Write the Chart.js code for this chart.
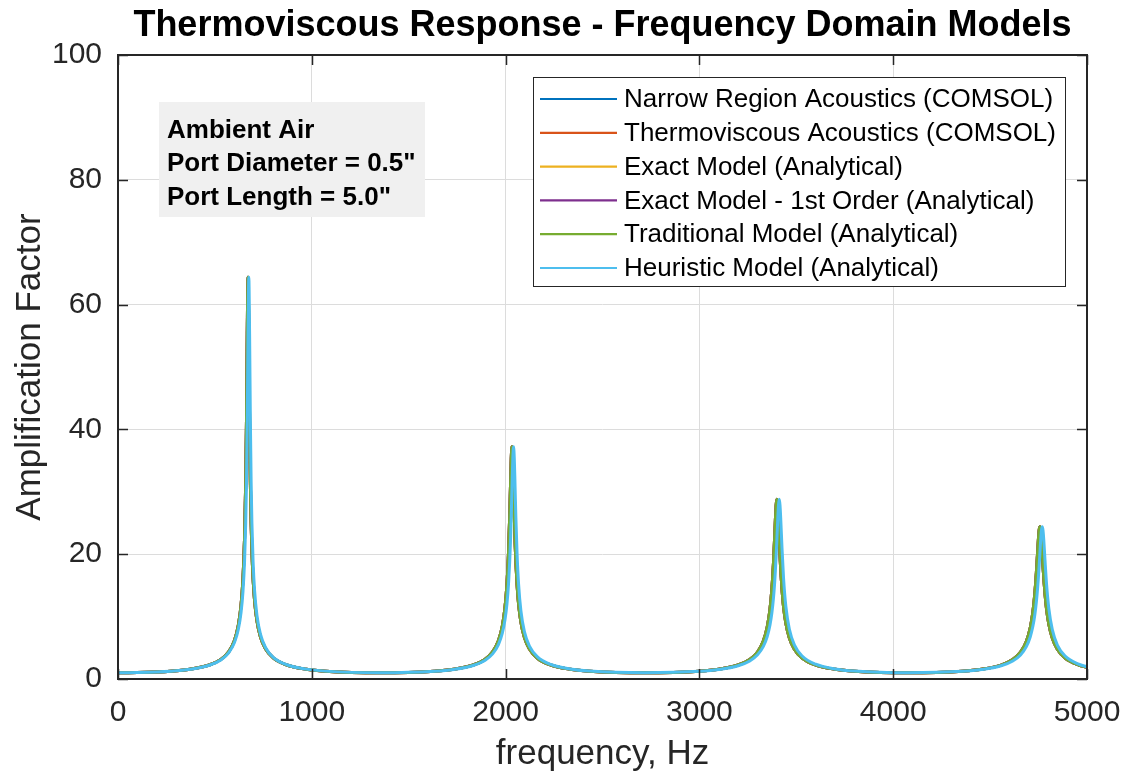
<html>
<head>
<script src="https://cdn.jsdelivr.net/npm/chart.js@4.4.1/dist/chart.umd.min.js"></script>
<style>
  body { margin: 0; background: #fff; }
  #wrap { width: 1125px; height: 774px; }
</style>
</head>
<body>
<div id="wrap"><canvas id="myChart" width="1125" height="774"></canvas></div>
<script>
// frequency samples (Hz), denser around each resonance
const freqHz = [
  0, 100, 271, 371,
  471, 531, 571, 601, 621, 635, 645, 653, 659, 663, 667, 671, 675, 679, 683, 687, 691, 697, 705, 717, 735, 761, 801, 871, 971, 1071,
  1352,
  1633, 1733, 1833, 1893, 1933, 1963, 1983, 1997, 2007, 2015, 2021, 2025, 2029, 2033, 2037, 2041, 2045, 2049, 2053, 2059, 2067, 2079, 2097, 2123, 2163, 2233, 2333, 2433,
  2716,
  3000, 3100, 3200, 3260, 3300, 3330, 3350, 3364, 3374, 3382, 3388, 3392, 3396, 3400, 3404, 3408, 3412, 3416, 3420, 3426, 3434, 3446, 3464, 3490, 3530, 3600, 3700, 3800,
  4078,
  4357, 4457, 4557, 4617, 4657, 4687, 4707, 4721, 4731, 4739, 4745, 4749, 4753, 4757, 4761, 4765, 4769, 4773, 4777, 4783, 4791, 4803, 4821, 4847, 4887, 4957, 5000
];

// amplification factor, COMSOL + exact/traditional analytical models (they overlap)
const ampModels = [
  1.000, 1.033, 1.253, 1.565,
  2.242, 3.143, 4.358, 6.183, 8.601, 11.84, 16.13, 22.54, 31.48, 41.43, 55.35, 64.39, 55.35, 41.43, 31.48, 24.95, 20.52, 16.13, 12.50, 9.33, 6.752, 4.832, 3.376, 2.242, 1.565, 1.253,
  1.000,
  1.253, 1.565, 2.240, 3.137, 4.340, 6.129, 8.454, 11.46, 15.21, 20.21, 25.91, 30.66, 35.18, 37.20, 35.18, 30.66, 25.91, 21.89, 18.72, 15.21, 12.06, 9.143, 6.681, 4.806, 3.368, 2.240, 1.565, 1.253,
  1.000,
  1.253, 1.564, 2.238, 3.130, 4.321, 6.075, 8.313, 11.11, 14.43, 18.47, 22.51, 25.43, 27.83, 28.80, 27.83, 25.43, 22.51, 19.73, 17.31, 14.43, 11.66, 8.965, 6.612, 4.781, 3.360, 2.238, 1.564, 1.253,
  1.000,
  1.253, 1.564, 2.236, 3.123, 4.303, 6.024, 8.182, 10.80, 13.77, 17.14, 20.22, 22.25, 23.81, 24.40, 23.81, 22.25, 20.22, 18.13, 16.20, 13.77, 11.30, 8.801, 6.546, 4.756, 3.351, 2.236, 1.875
];

// heuristic model, resonances sit a few Hz higher
const ampHeuristic = [
  1.000, 1.032, 1.245, 1.548,
  2.202, 3.059, 4.194, 5.855, 7.976, 10.69, 14.09, 18.82, 24.95, 31.48, 41.43, 55.35, 64.39, 55.35, 41.43, 31.48, 24.95, 18.82, 14.09, 10.19, 7.193, 5.052, 3.480, 2.285, 1.583, 1.262,
  1.000,
  1.236, 1.530, 2.161, 2.974, 4.028, 5.520, 7.341, 9.530, 12.06, 15.21, 18.72, 21.89, 25.91, 30.66, 35.18, 37.20, 35.18, 30.66, 25.91, 20.21, 15.21, 10.91, 7.591, 5.260, 3.580, 2.327, 1.600, 1.271,
  1.000,
  1.228, 1.514, 2.122, 2.894, 3.875, 5.226, 6.812, 8.628, 10.61, 12.92, 15.30, 17.31, 19.73, 22.51, 25.43, 27.83, 28.80, 27.83, 25.43, 21.09, 16.26, 11.66, 8.020, 5.481, 3.686, 2.370, 1.618, 1.280,
  1.000,
  1.228, 1.514, 2.120, 2.889, 3.862, 5.194, 6.739, 8.481, 10.34, 12.44, 14.52, 16.20, 18.13, 20.22, 22.25, 23.81, 24.40, 23.81, 22.25, 19.16, 15.33, 11.30, 7.902, 5.444, 3.675, 2.367, 1.961
];

const seriesNames = [
  'Narrow Region Acoustics (COMSOL)',
  'Thermoviscous Acoustics (COMSOL)',
  'Exact Model (Analytical)',
  'Exact Model - 1st Order (Analytical)',
  'Traditional Model (Analytical)',
  'Heuristic Model (Analytical)'
];
const seriesColors = ['#0072BD', '#D95319', '#EDB120', '#7E2F8E', '#77AC30', '#4DBEEE'];
const seriesValues = [ampModels, ampModels, ampModels, ampModels, ampModels, ampHeuristic];

const xTicks = [0, 1000, 2000, 3000, 4000, 5000];
const yTicks = [0, 20, 40, 60, 80, 100];

const titleText = 'Thermoviscous Response - Frequency Domain Models';
const noteLines = ['Ambient Air', 'Port Diameter = 0.5"', 'Port Length = 5.0"'];

const FONT = '"Liberation Sans", Arial, Helvetica, sans-serif';
const AXIS_COLOR = '#262626';

function toPoints(vals) {
  return freqHz.map((f, i) => ({ x: f, y: vals[i] }));
}

// box around the axes with inward ticks on all four sides
const axesBox = {
  id: 'axesBox',
  afterDatasetsDraw(chart) {
    const { ctx, chartArea: a, scales } = chart;
    ctx.save();
    ctx.strokeStyle = AXIS_COLOR;
    ctx.lineWidth = 1.5;
    ctx.beginPath();
    xTicks.forEach(v => {
      const px = Math.round(scales.x.getPixelForValue(v)) + 0.5;
      ctx.moveTo(px, a.bottom); ctx.lineTo(px, a.bottom - 10);
      ctx.moveTo(px, a.top); ctx.lineTo(px, a.top + 10);
    });
    yTicks.forEach(v => {
      const py = Math.round(scales.y.getPixelForValue(v)) + 0.5;
      ctx.moveTo(a.left, py); ctx.lineTo(a.left + 10, py);
      ctx.moveTo(a.right, py); ctx.lineTo(a.right - 10, py);
    });
    ctx.stroke();
    ctx.lineWidth = 2;
    ctx.strokeRect(a.left, a.top, a.right - a.left, a.bottom - a.top);
    ctx.restore();
  }
};

// title, text note and legend
const overlays = {
  id: 'overlays',
  afterDraw(chart) {
    const ctx = chart.ctx;
    const a = chart.chartArea;
    ctx.save();

    ctx.fillStyle = '#000';
    ctx.font = 'bold 36px ' + FONT;
    ctx.textAlign = 'center';
    ctx.textBaseline = 'alphabetic';
    ctx.fillText(titleText, (a.left + a.right) / 2, 36);

    // note box
    ctx.fillStyle = '#f0f0f0';
    ctx.fillRect(159, 102, 266, 115);
    ctx.fillStyle = '#000';
    ctx.font = 'bold 26px ' + FONT;
    ctx.textAlign = 'left';
    noteLines.forEach((t, i) => ctx.fillText(t, 167, 138 + i * 33.3));

    // legend
    const lx = 533, ly = 77, lw = 532, lh = 209;
    ctx.fillStyle = '#fff';
    ctx.fillRect(lx, ly, lw, lh);
    ctx.strokeStyle = AXIS_COLOR;
    ctx.lineWidth = 1;
    ctx.strokeRect(lx + 0.5, ly + 0.5, lw, lh);
    ctx.font = '26px ' + FONT;
    ctx.textBaseline = 'middle';
    seriesNames.forEach((name, i) => {
      const y = 99 + i * 33.8;
      ctx.strokeStyle = seriesColors[i];
      ctx.lineWidth = 2.2;
      ctx.beginPath();
      ctx.moveTo(540, y); ctx.lineTo(617, y);
      ctx.stroke();
      ctx.fillStyle = '#000';
      ctx.fillText(name, 624, y + 1);
    });
    ctx.restore();
  }
};

const ctx = document.getElementById('myChart').getContext('2d');
new Chart(ctx, {
  type: 'line',
  data: {
    datasets: seriesNames.map((name, i) => ({
      label: name,
      data: toPoints(seriesValues[i]),
      borderColor: seriesColors[i],
      backgroundColor: seriesColors[i],
      borderWidth: 3,
      pointRadius: 0,
      cubicInterpolationMode: 'monotone',
      fill: false,
      order: seriesNames.length - i   // later series drawn on top
    }))
  },
  options: {
    responsive: false,
    animation: false,
    devicePixelRatio: 1,
    layout: { padding: { left: 0, right: 38, top: 55, bottom: 0 } },
    plugins: {
      legend: { display: false },
      tooltip: { enabled: false },
      title: { display: false }
    },
    scales: {
      x: {
        type: 'linear',
        min: 0, max: 5000,
        afterFit: s => { s.height = 95; s.paddingLeft = 0; s.paddingRight = 0; },
        afterBuildTicks: s => { s.ticks = xTicks.map(v => ({ value: v })); },
        ticks: {
          color: AXIS_COLOR, font: { family: FONT, size: 30 }, padding: 16, maxRotation: 0,
          callback: v => String(v)
        },
        grid: { color: '#dcdcdc', lineWidth: 1, drawTicks: false },
        border: { display: false },
        title: {
          display: true, text: 'frequency, Hz', color: AXIS_COLOR,
          font: { family: FONT, size: 35, lineHeight: 1 },
          padding: { top: 2, bottom: 2 }
        }
      },
      y: {
        min: 0, max: 100,
        afterFit: s => { s.width = 118; s.paddingTop = 0; s.paddingBottom = 0; },
        afterBuildTicks: s => { s.ticks = yTicks.map(v => ({ value: v })); },
        ticks: {
          color: AXIS_COLOR, font: { family: FONT, size: 30 }, padding: 16,
          callback: v => String(v)
        },
        grid: { color: '#dcdcdc', lineWidth: 1, drawTicks: false },
        border: { display: false },
        title: {
          display: true, text: 'Amplification Factor', color: AXIS_COLOR,
          font: { family: FONT, size: 35, lineHeight: 1 },
          padding: { top: 13, bottom: 13 }
        }
      }
    }
  },
  plugins: [axesBox, overlays]
});
</script>
</body>
</html>
